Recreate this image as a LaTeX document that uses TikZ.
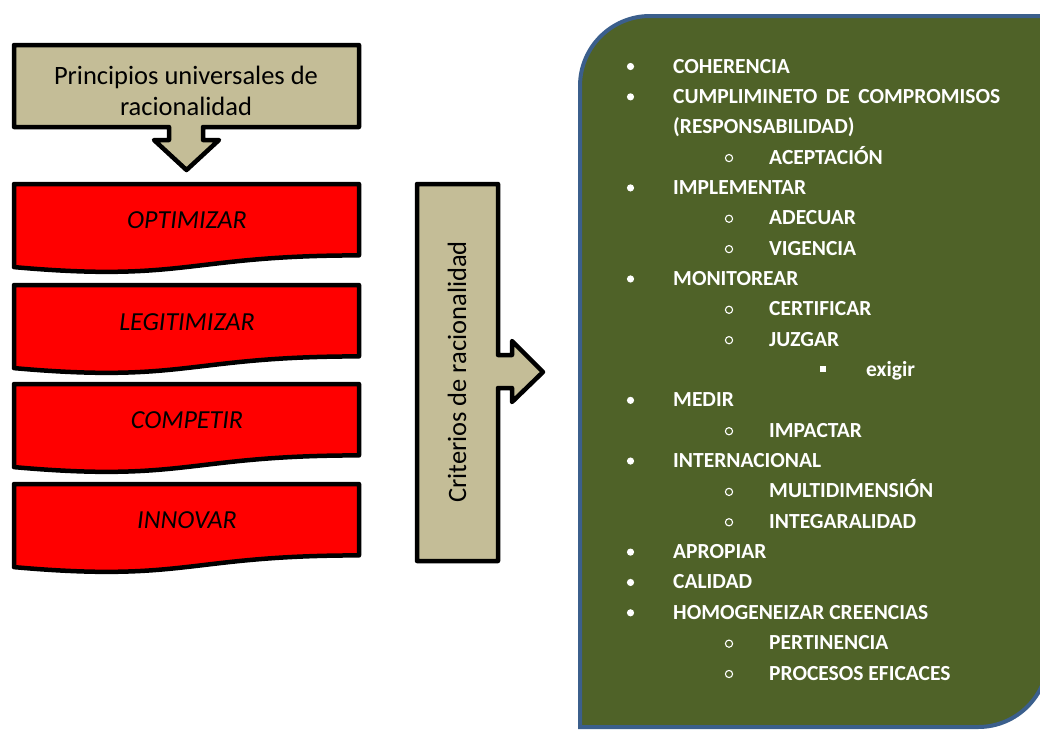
\documentclass[tikz,border=0pt]{standalone}
\usepackage{fontspec}
\setmainfont{Carlito}
\usetikzlibrary{calc}
\definecolor{boxtan}{HTML}{C4BD97}
\definecolor{olivefill}{HTML}{4F6228}
\definecolor{bordblue}{HTML}{3B5F8C}
\newcommand\docbox[1]{%
  \draw[redbox] (14,#1) -- (359,#1) -- (359,{#1+71.4})
    .. controls (186.5,{#1+71.4}) and (186.5,{#1+98.5}) .. (14,{#1+83.1}) -- cycle;}
\newcommand\lvlone[3]{%
  \fill[white] (630.5,{73+30.35*#2-6.5}) circle (3.6);
  \node[gtext] (#1) at (673,{73+30.35*#2}) {#3};}
\newcommand\lvltwo[3]{%
  \draw[white, line width=1.1pt] (729,{73+30.35*#2-6}) circle (3.6);
  \node[gtext] (#1) at (769,{73+30.35*#2}) {#3};}
\newcommand\lvlthree[3]{%
  \fill[white] ($(823,{73+30.35*#2-7.5})+(-3,-3)$) rectangle ++(6,6);
  \node[gtext] (#1) at (866,{73+30.35*#2}) {#3};}
\begin{document}
\begin{tikzpicture}[x=1pt,y=-1pt,
  redbox/.style={draw=black, fill=red, line width=4.5pt, line join=round},
  tanbox/.style={draw=black, fill=boxtan, line width=4.5pt, line join=round},
  ltext/.style={inner sep=0pt, text=black, font=\fontsize{26.5}{31}\selectfont},
  rtext/.style={inner sep=0pt, anchor=base, text=black, font=\fontsize{26}{30}\selectfont\itshape},
  gtext/.style={inner sep=0pt, anchor=base west, text=white, font=\fontsize{21.5}{26}\selectfont\bfseries}]
\useasboundingbox (0,0) rectangle (1040,729);
% top box with down arrow
\draw[tanbox] (14,45) -- (359,45) -- (359,127) -- (203,127) -- (203,140) -- (219,140)
  -- (186.5,170) -- (154,140) -- (169,140) -- (169,127) -- (14,127) -- cycle;
\node[ltext, align=center] (pri) at (186,90.5) {Principios universales de\\racionalidad};
% red document boxes
\docbox{184}
\docbox{285}
\docbox{384}
\docbox{484}
\node[rtext] (opt) at (187,228) {OPTIMIZAR};
\node[rtext] (leg) at (187,330) {LEGITIMIZAR};
\node[rtext] (comp) at (187,428) {COMPETIR};
\node[rtext] (inn) at (187,528) {INNOVAR};
% criterios box with right arrow
\draw[tanbox] (417,184) -- (498,184) -- (498,355) -- (512,355) -- (512,341) -- (543,372)
  -- (512,402) -- (512,388) -- (498,388) -- (498,561) -- (417,561) -- cycle;
\node[ltext, rotate=90, anchor=base] (crit) at (466,372) {Criterios de racionalidad};
% green panel
\begin{scope}
\clip (0,0) rectangle (1040,729);
\draw[fill=olivefill, draw=bordblue, line width=4pt]
  (580,727) -- (580,86) .. controls (580,47.3) and (611.3,16) .. (650,16)
  -- (1048,16) -- (1048,657) .. controls (1048,695.7) and (1016.7,727) .. (978,727) -- cycle;
\end{scope}
\lvlone{i0}{0}{COHERENCIA}
\lvlone{i1}{1}{\makebox[327pt][s]{CUMPLIMINETO DE COMPROMISOS}}
\node[gtext] (i2) at (673,{73+30.35*2}) {(RESPONSABILIDAD)};
\lvltwo{i3}{3}{ACEPTACIÓN}
\lvlone{i4}{4}{IMPLEMENTAR}
\lvltwo{i5}{5}{ADECUAR}
\lvltwo{i6}{6}{VIGENCIA}
\lvlone{i7}{7}{MONITOREAR}
\lvltwo{i8}{8}{CERTIFICAR}
\lvltwo{i9}{9}{JUZGAR}
\lvlthree{i10}{10}{exigir}
\lvlone{i11}{11}{MEDIR}
\lvltwo{i12}{12}{IMPACTAR}
\lvlone{i13}{13}{INTERNACIONAL}
\lvltwo{i14}{14}{MULTIDIMENSIÓN}
\lvltwo{i15}{15}{INTEGARALIDAD}
\lvlone{i16}{16}{APROPIAR}
\lvlone{i17}{17}{CALIDAD}
\lvlone{i18}{18}{HOMOGENEIZAR CREENCIAS}
\lvltwo{i19}{19}{PERTINENCIA}
\lvltwo{i20}{20}{PROCESOS EFICACES}
\end{tikzpicture}
\end{document}
